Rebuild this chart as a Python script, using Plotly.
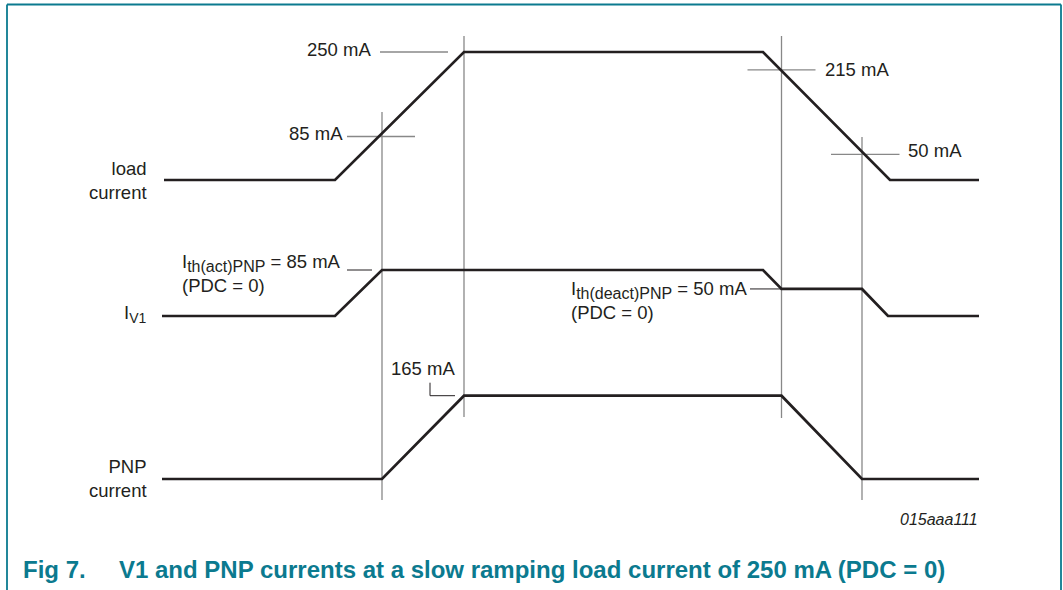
import plotly.graph_objects as go

# ---------------- data ----------------
# time axis in arbitrary units
load_t = [0.0, 17.1, 30.0, 59.9, 72.6, 81.5]
load_mA = [0, 0, 250, 250, 0, 0]

iv1_t = [-0.2, 17.1, 21.8, 59.9, 61.75, 69.8, 72.4, 81.5]
iv1_mA = [0, 0, 85, 85, 50, 50, 0, 0]

pnp_t = [-0.2, 21.8, 30.0, 61.75, 69.8, 81.5]
pnp_mA = [0, 0, 165, 165, 0, 0]

guide_t = [21.8, 30.0, 61.75, 69.8]

load_marks = [250, 85, 215, 50]
load_mark_labels = ["250 mA", "85 mA", "215 mA", "50 mA"]
ith_act = 85
ith_deact = 50
pnp_peak = 165

title_num = "Fig 7."
title_text = "V1 and PNP currents at a slow ramping load current of 250 mA (PDC = 0)"
code_id = "015aaa111"

# ---------------- layout helpers ----------------
W, H = 1063, 590
X0PX, XSCALE = 164.0, 10.0          # px = X0PX + XSCALE * t
def px2t(px):
    return (px - X0PX) / XSCALE
def ppaper(py):
    return 1 - py / H
def xpaper(px):
    return px / W

def yrange(zero_px, ma_per_px):
    return [-(H - zero_px) * ma_per_px, zero_px * ma_per_px]

LOAD_ZERO, LOAD_S = 180.0, 250 / 128.0
IV1_ZERO, IV1_S = 316.0, 85 / 46.0
PNP_ZERO, PNP_S = 479.0, 165 / 83.3

INK = "#231f20"
GUIDE = "#888888"
TEAL = "#0b7a8f"
FONT = "Liberation Sans, Arial, sans-serif"

def sub(s, size):
    return f'<sub><span style="font-size:{size}px">{s}</span></sub>'

row_labels = ["load<br>current", "I" + sub("V1", 14), "PNP<br>current"]

fig = go.Figure()
lw = 2.7
fig.add_trace(go.Scatter(x=load_t, y=load_mA, mode="lines", yaxis="y",
                         line=dict(color=INK, width=lw), hoverinfo="skip"))
fig.add_trace(go.Scatter(x=iv1_t, y=iv1_mA, mode="lines", yaxis="y2",
                         line=dict(color=INK, width=lw), hoverinfo="skip"))
fig.add_trace(go.Scatter(x=pnp_t, y=pnp_mA, mode="lines", yaxis="y3",
                         line=dict(color=INK, width=lw), hoverinfo="skip"))

shapes = []
# vertical guide lines
guide_top = [112, 36, 36, 137]
guide_bot = [500, 417, 418, 500]
for t, a, b in zip(guide_t, guide_top, guide_bot):
    shapes.append(dict(type="line", xref="x", yref="paper", x0=t, x1=t,
                       y0=ppaper(b), y1=ppaper(a),
                       line=dict(color=GUIDE, width=1.3), layer="below"))

# load-current level ticks
tick_spans = [(380, 448), (347, 415), (747.5, 815.5), (831, 899.5)]
for v, (a, b) in zip(load_marks, tick_spans):
    shapes.append(dict(type="line", xref="x", yref="y", x0=px2t(a), x1=px2t(b),
                       y0=v, y1=v, line=dict(color=GUIDE, width=1.3), layer="below"))
# Ith ticks
shapes.append(dict(type="line", xref="x", yref="y2", x0=px2t(347), x1=px2t(372),
                   y0=ith_act, y1=ith_act, line=dict(color=INK, width=1)))
shapes.append(dict(type="line", xref="x", yref="y2", x0=px2t(750), x1=px2t(781.5),
                   y0=ith_deact, y1=ith_deact, line=dict(color=INK, width=1)))
# 165 mA bracket
bx = px2t(430)
shapes.append(dict(type="line", xref="x", yref="y3", x0=bx, x1=bx,
                   y0=pnp_peak + 13 * PNP_S, y1=pnp_peak, line=dict(color=INK, width=1)))
shapes.append(dict(type="line", xref="x", yref="y3", x0=bx, x1=px2t(455),
                   y0=pnp_peak, y1=pnp_peak, line=dict(color=INK, width=1)))
# frame
for x0, y0, x1, y1 in [(7, 4.5, 1061, 4.5), (7, 4.5, 7, 600), (1061, 4.5, 1061, 600)]:
    shapes.append(dict(type="line", xref="paper", yref="paper",
                       x0=xpaper(x0), x1=xpaper(x1), y0=ppaper(y0), y1=ppaper(y1),
                       line=dict(color=TEAL, width=1.8)))

f18 = dict(family=FONT, size=18.5, color=INK)
ann = []
def add(text, x, y, yref="y", xanchor="left", yanchor="middle", yshift=0,
        font=f18, align="left", xref="x"):
    xs = -2.5 if xanchor == "left" else 2
    ann.append(dict(text=text, x=x, y=y, xref=xref, yref=yref, xanchor=xanchor,
                    yanchor=yanchor, xshift=xs, yshift=yshift, showarrow=False,
                    font=font, align=align))

add(row_labels[0], px2t(147), 0, yref="y", xanchor="right", align="right")
add(row_labels[1], px2t(146), 0, yref="y2", xanchor="right", align="right", yshift=2)
add(row_labels[2], px2t(147), 0, yref="y3", xanchor="right", align="right", yshift=1)

add(load_mark_labels[0], px2t(371), load_marks[0], xanchor="right", yshift=3)
add(load_mark_labels[1], px2t(343), load_marks[1], xanchor="right", yshift=3)
add(load_mark_labels[2], px2t(825), load_marks[2], xanchor="left", yshift=0)
add(load_mark_labels[3], px2t(908), load_marks[3], xanchor="left", yshift=4)

add("I" + sub("th(act)PNP", 16) + f" = {ith_act} mA<br>(PDC = 0)", px2t(182), ith_act,
    yref="y2", xanchor="left", yshift=-3)
add("I" + sub("th(deact)PNP", 16) + f" = {ith_deact} mA<br>(PDC = 0)", px2t(571.5), ith_deact,
    yref="y2", xanchor="left", yshift=-12)
add(f"{pnp_peak} mA", px2t(454.5), pnp_peak, yref="y3", xanchor="right", yshift=27)

add("<i>" + code_id + "</i>", px2t(978), ppaper(519), yref="paper", xanchor="right",
    font=dict(family=FONT, size=16, color=INK))

tfont = dict(family=FONT, size=24, color=TEAL)
add("<b>" + title_num + "</b>", xpaper(23.5), ppaper(569), xref="paper", yref="paper", font=tfont)
add("<b>" + title_text + "</b>", xpaper(119.5), ppaper(569), xref="paper", yref="paper", font=tfont)

fig.update_layout(
    width=W, height=H,
    margin=dict(l=0, r=0, t=0, b=0, pad=0),
    paper_bgcolor="white", plot_bgcolor="white",
    showlegend=False,
    xaxis=dict(range=[px2t(0), px2t(W)], visible=False, fixedrange=True),
    yaxis=dict(range=yrange(LOAD_ZERO, LOAD_S), visible=False, domain=[0, 1]),
    yaxis2=dict(range=yrange(IV1_ZERO, IV1_S), visible=False, overlaying="y"),
    yaxis3=dict(range=yrange(PNP_ZERO, PNP_S), visible=False, overlaying="y"),
    shapes=shapes, annotations=ann,
)

fig.write_html("out.html", config={"displayModeBar": False},
               post_script="document.body.style.margin='0';document.body.style.overflow='hidden';")
